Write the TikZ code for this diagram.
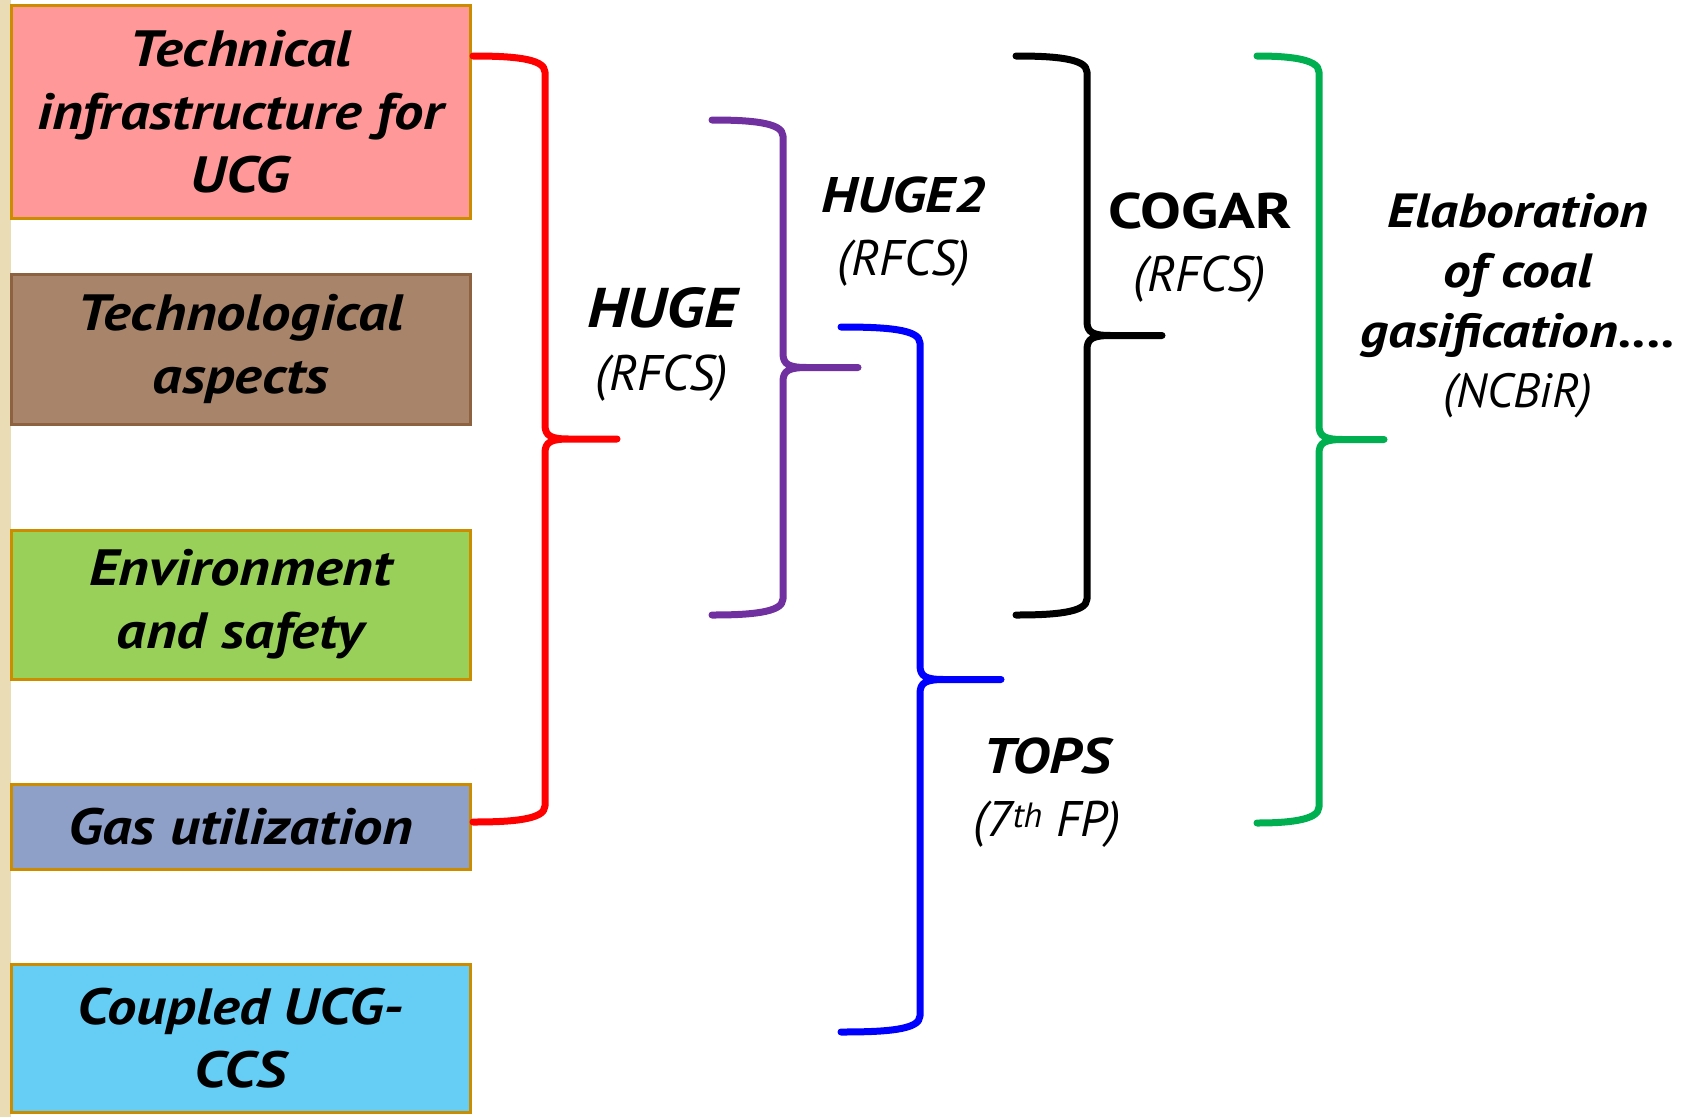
\documentclass[tikz,border=0pt]{standalone}
\usepackage{fontspec}
\setmainfont{PT Sans}[BoldItalicFeatures={FakeStretch=1.15},BoldFeatures={FakeStretch=1.22}]
\usetikzlibrary{calc}

\definecolor{boxedge}{RGB}{204,140,0}
\definecolor{techred}{RGB}{255,153,153}
\definecolor{techbrown}{RGB}{168,132,106}
\definecolor{brownedge}{RGB}{140,98,64}
\definecolor{envgreen}{RGB}{153,208,90}
\definecolor{gasblue}{RGB}{143,160,200}
\definecolor{ccscyan}{RGB}{102,206,245}
\definecolor{stripbeige}{RGB}{234,220,180}
\definecolor{hugepurple}{RGB}{112,48,160}
\definecolor{ncbirgreen}{RGB}{0,176,80}

\tikzset{
  topic/.style={draw=boxedge,line width=3pt,minimum width=459pt,align=center,
    inner sep=0pt,font=\fontsize{51}{63}\selectfont\bfseries\itshape},
  project/.style={align=center,font=\fontsize{50}{63}\selectfont\itshape},
  curly/.style={line width=7pt,line cap=round,line join=round}
}

\begin{document}
\begin{tikzpicture}[x=1pt,y=-1pt]
	\useasboundingbox (0,0) rectangle (1692,1117);
	\fill[stripbeige] (0,0) rectangle (11,1117);

	% research topics
	\node[topic,fill=techred,minimum height=213pt] (tech) at (240.5,111.5) {Technical\\infrastructure for\\UCG};
	\node[topic,fill=techbrown,draw=brownedge,minimum height=150pt] (techno) at (240.5,349) {Technological\\aspects};
	\node[topic,fill=envgreen,minimum height=149pt] (env) at (240.5,604.5) {Environment\\and safety};
	\node[topic,fill=gasblue,minimum height=85pt] (gas) at (240.5,826.5) {Gas utilization};
	\node[topic,fill=ccscyan,minimum height=148pt] (ccs) at (240.5,1038) {Coupled UCG-\\CCS};

	% projects
	\node[project] (huge) at (662,345) {{\fontsize{56}{63}\selectfont\bfseries HUGE}\\(RFCS)};
	\node[project] (huge2) at (904,232) {\textbf{HUGE2}\\(RFCS)};
	\node[project] (cogar) at (1200,248) {\textbf{\upshape COGAR}\\(RFCS)};
	\node[project] (tops) at (1047,793) {\textbf{TOPS}\\(7\textsuperscript{th} FP)};
	\node[project,font=\fontsize{48}{60}\selectfont\itshape] (ncbir) at (1518,306)
		{\textbf{Elaboration}\\\textbf{of coal}\\\textbf{gasification....}\\(NCBiR)};

	% brace ends
	\coordinate (topred) at (473,56);     \coordinate (botred) at (473,822);     \coordinate (tipred) at (617,439);
	\coordinate (toppurple) at (712,120); \coordinate (botpurple) at (712,615);  \coordinate (tippurple) at (858,368);
	\coordinate (topblue) at (841,327);   \coordinate (botblue) at (841,1032);   \coordinate (tipblue) at (1001,680);
	\coordinate (topblack) at (1016,56);  \coordinate (botblack) at (1016,615);  \coordinate (tipblack) at (1162,336);
	\coordinate (topgreen) at (1257,56);  \coordinate (botgreen) at (1257,823);  \coordinate (tipgreen) at (1384,439);

	\foreach \nm/\col/\arm in {red/red/72,purple/hugepurple/71,blue/blue/79,black/black/71,green/ncbirgreen/62}
		\draw[curly,\col] let \p1=(top\nm), \p2=(bot\nm), \p3=(tip\nm),
			\p4=($(\p1)!0.5!(\p2)$), \p5=($(\p1)+(\arm,0)$) in
			(\p1) .. controls (\x5-35pt,\y1) and (\x5,\y1-2pt) .. (\x5,\y1-16pt)
			-- (\x5,\y4+14pt) .. controls (\x5,\y4+3pt) and (\x5+6pt,\y4) .. (\x5+24pt,\y4)
			-- (\x3,\y4)
			(\x5+24pt,\y4) .. controls (\x5+6pt,\y4) and (\x5,\y4-3pt) .. (\x5,\y4-14pt)
			-- (\x5,\y2+16pt) .. controls (\x5,\y2+2pt) and (\x5-35pt,\y2) .. (\p2);
\end{tikzpicture}
\end{document}
